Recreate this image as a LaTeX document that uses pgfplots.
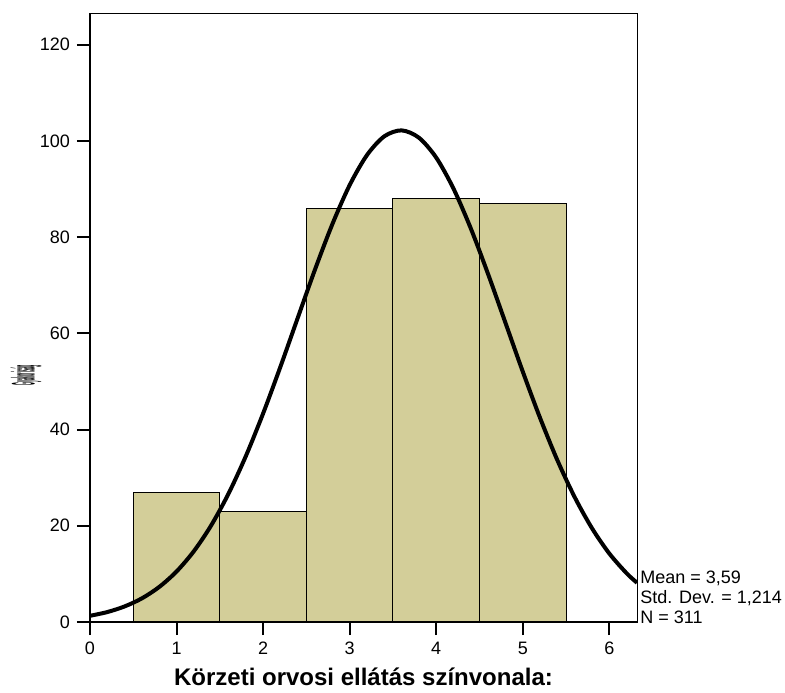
\documentclass[border=0pt]{standalone}
\usepackage{pgfplots}
\pgfplotsset{compat=1.18}
\usepackage{fontspec}
\setmainfont{Liberation Sans}
\definecolor{barfill}{RGB}{211,206,153}

\begin{document}
\begin{tikzpicture}[x=1pt,y=1pt]
\useasboundingbox (-45,-35) rectangle (347.5,311);
\begin{axis}[
  at={(0,0)}, anchor=south west,
  scale only axis, width=273.5pt, height=304.5pt,
  xmin=0, xmax=6.32, ymin=0, ymax=126.6,
  xtick={0,...,6}, ytick={0,20,...,120},
  tick pos=left, tick align=outside,
  major tick length=6.5pt,
  every tick/.style={black, line width=1pt},
  axis line style={line width=0.5pt},
  tick label style={font=\fontsize{9}{10}\selectfont},
  /pgf/number format/assume math mode=true,
  xlabel={\fontsize{12}{14}\selectfont\bfseries Körzeti orvosi ellátás színvonala:},
  xlabel style={yshift=0.5pt},
  clip mode=individual,
]
% bars (bin edges, last point closes the interval)
\addplot[ybar interval, fill=barfill, draw=black, line width=0.5pt] coordinates {
  (0.5,27) (1.5,23) (2.5,86) (3.5,88) (4.5,87) (5.5,0)
};
% normal curve, mean 3.59, sd 1.214, N 311
\addplot[black, line width=2pt, smooth] coordinates {
  (0,1.29) (0.2,2.07) (0.4,3.24) (0.6,4.92) (0.8,7.29) (1.0,10.50)
  (1.2,14.72) (1.4,20.08) (1.6,26.67) (1.8,34.46) (2.0,43.35)
  (2.2,53.06) (2.4,63.21) (2.6,73.29) (2.8,82.70) (3.0,90.82)
  (3.2,97.06) (3.4,100.96) (3.6,102.2) (3.8,100.68) (4.0,96.54)
  (4.2,90.08) (4.4,81.80) (4.6,72.30) (4.8,62.20) (5.0,52.06)
  (5.2,42.42) (5.4,33.63) (5.6,25.95) (5.8,19.49) (6.0,14.24)
  (6.2,10.13) (6.32,8.16)
};
\draw[line width=1pt] (rel axis cs:0,1) -- (rel axis cs:0,0) -- (rel axis cs:1,0);
\node[rotate=90, anchor=center, inner sep=0pt, yshift=32pt] at (rel axis cs:0,0.405)
  {\resizebox{10pt}{12pt}{\bfseries Gyakoriság}};
\node[anchor=south west, align=left, inner sep=0pt, xshift=1.5pt, yshift=-1pt,
  font=\fontsize{9}{10}\selectfont] at (rel axis cs:1,0)
  {Mean = 3,59\\Std. Dev. = 1,214\\N = 311};
\end{axis}
\end{tikzpicture}
\end{document}
